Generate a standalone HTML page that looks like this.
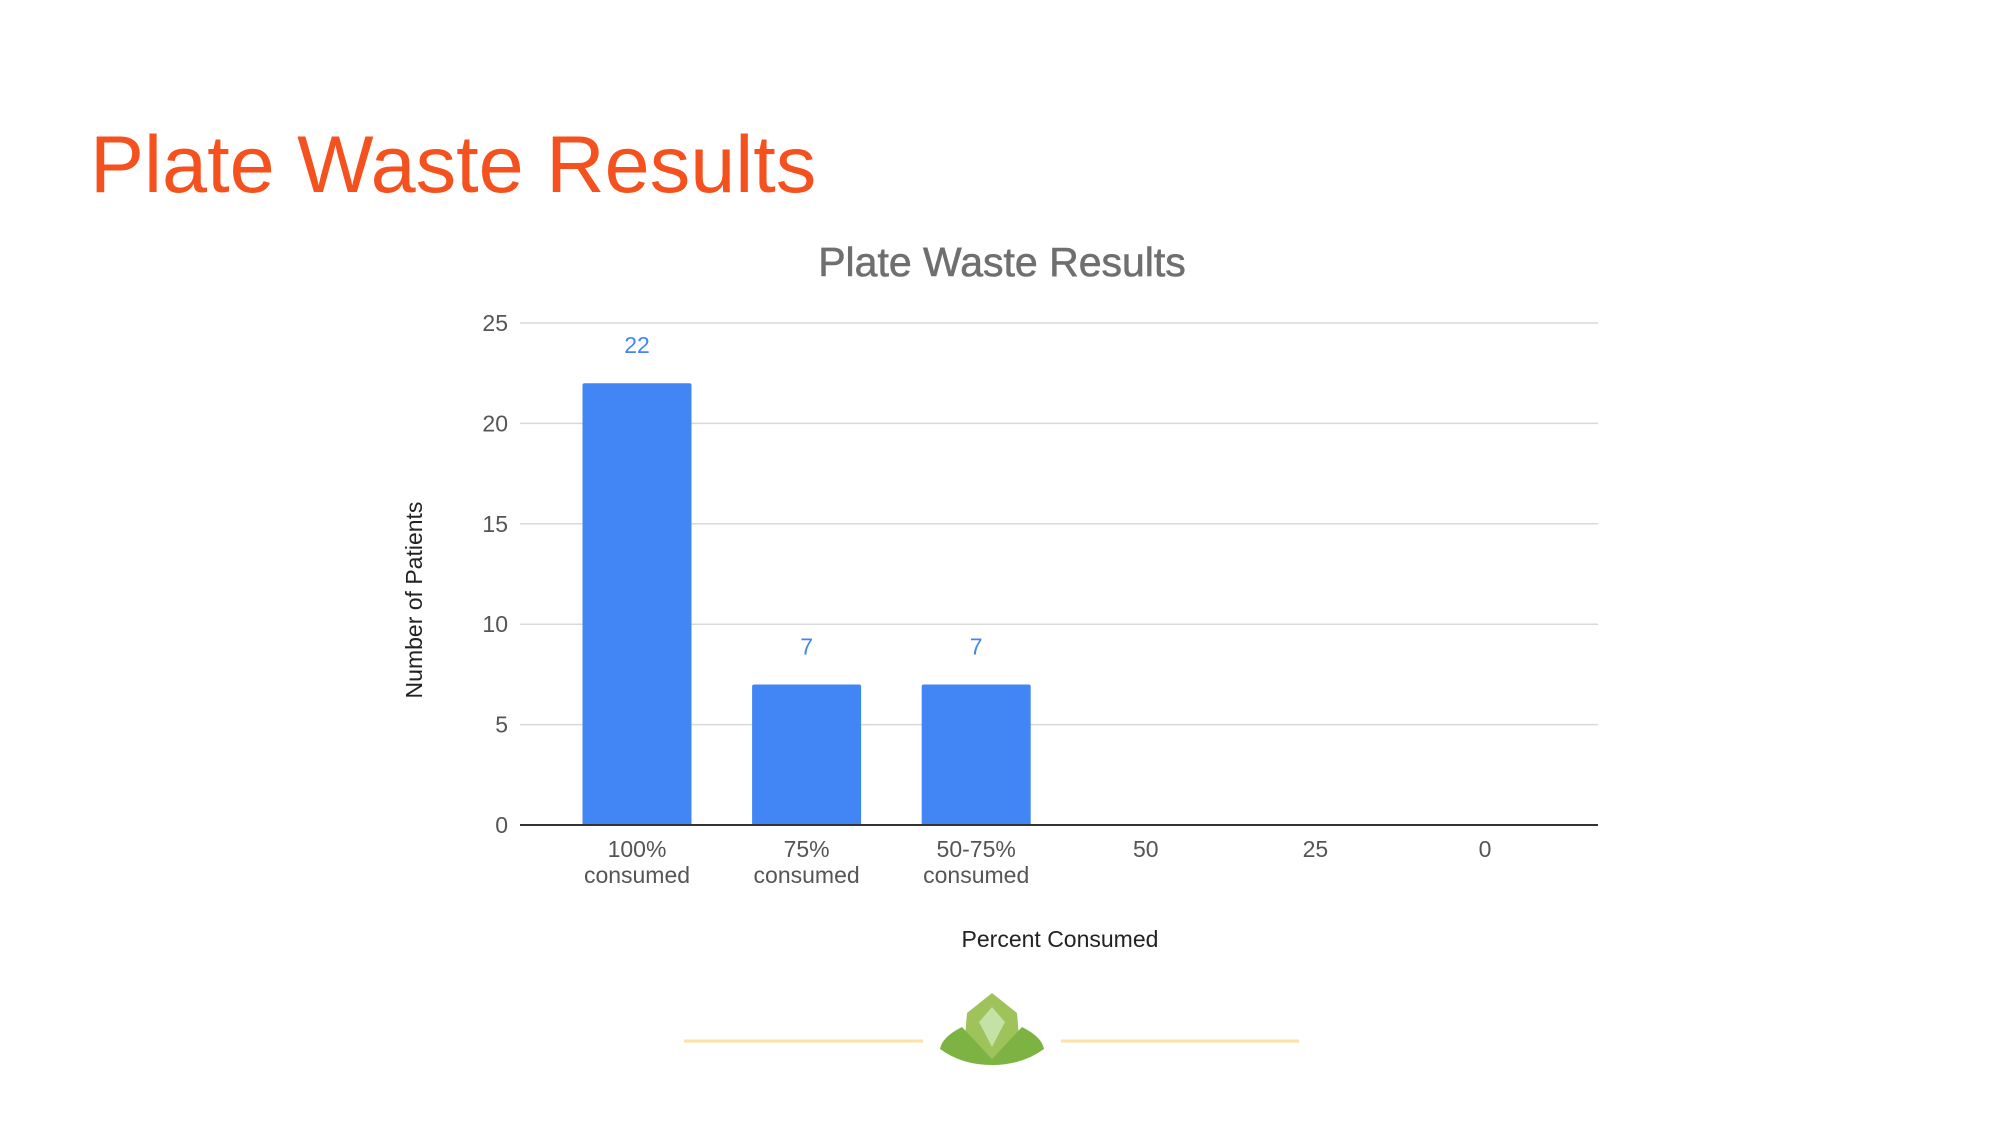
<!DOCTYPE html>
<html><head><meta charset="utf-8"><style>
body{margin:0;background:#fff;width:2000px;height:1125px;overflow:hidden;font-family:"Liberation Sans",sans-serif}
#title{position:absolute;left:90px;top:119px;font-size:81px;color:#f4511e;margin:0;font-weight:normal;letter-spacing:0px}
svg{position:absolute;left:0;top:0}
</style></head><body>
<h1 id="title">Plate Waste Results</h1>
<svg id="chart" width="2000" height="1125"></svg>
<script>
const categories=[["100%","consumed"],["75%","consumed"],["50-75%","consumed"],["50"],["25"],["0"]];
const values=[22,7,7,0,0,0];
const yTicks=[0,5,10,15,20,25];
const NS="http://www.w3.org/2000/svg";
const svg=document.getElementById('chart');
const x0=520,x1=1598,yBase=825,yTop=323,yMax=25;
const firstCenter=637,step=169.6,barW=109;
function y(v){return yBase-(v/yMax)*(yBase-yTop);}
function xc(i){return firstCenter+i*step;}
function mk(tag,attrs,text){const e=document.createElementNS(NS,tag);for(const k in attrs)e.setAttribute(k,attrs[k]);if(text!==undefined)e.textContent=text;svg.appendChild(e);return e;}
let t=mk('text',{x:1002,y:276,'text-anchor':'middle','font-size':41,fill:'#6f6f6f','font-family':'Liberation Sans, sans-serif','stroke':'#6f6f6f','stroke-width':0.6},'Plate Waste Results');


yTicks.forEach(v=>{
 if(v>0){const g=mk('line',{x1:x0,x2:x1,y1:y(v),y2:y(v),stroke:'#d9d9d9','stroke-width':1.5});
 
 }
 const l=mk('text',{x:508,y:y(v)+8,'text-anchor':'end','font-size':23,fill:'#555'},String(v));
 
 
});
values.forEach((v,i)=>{
 if(v>0){
 const r=mk('rect',{x:xc(i)-barW/2,y:y(v),width:barW,height:yBase-y(v),fill:'#4285f4',rx:2});
 
 
 const lb=mk('text',{x:xc(i),y:y(v)-30,'text-anchor':'middle','font-size':23,fill:'#4285f4'},String(v));
 
 
 }
 categories[i].forEach((s,j)=>{
  const c=mk('text',{x:xc(i),y:857+j*26,'text-anchor':'middle','font-size':23,fill:'#555'},s);
  
  
 });
});
const ax=mk('line',{x1:x0,x2:x1,y1:yBase,y2:yBase,stroke:'#333','stroke-width':2});


const xt=mk('text',{x:1060,y:947,'text-anchor':'middle','font-size':23,fill:'#222'},'Percent Consumed');


const yt=mk('text',{x:0,y:0,'text-anchor':'middle','font-size':23,fill:'#222',transform:'translate(422,600) rotate(-90)'},'Number of Patients');


</script>
<svg width="2000" height="1125">
<line x1="684" x2="923" y1="1041" y2="1041" stroke="#fde2a6" stroke-width="3"/>
<line x1="1061" x2="1299" y1="1041" y2="1041" stroke="#fde2a6" stroke-width="3"/>
<g transform="translate(-3,-3)">
<path d="M995 996 L1020 1016 L1022 1040 L995 1064 L968 1040 L970 1016 Z" fill="#9dc35a"/>
<path d="M965 1030 Q945 1040 943 1052 Q965 1068 995 1068 Q1025 1068 1047 1052 Q1045 1040 1025 1030 L995 1062 Z" fill="#7cb342"/>
<path d="M995 1010 L1008 1025 L995 1050 L982 1025 Z" fill="#c5e1a5"/>
</g>
</svg>
</body></html>
